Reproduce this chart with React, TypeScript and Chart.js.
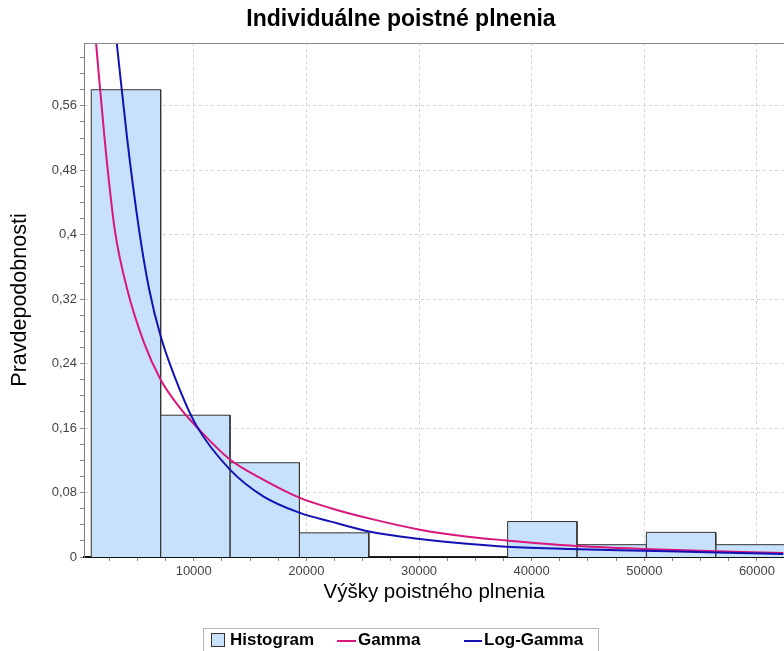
import React, { useEffect, useRef } from 'react';
import { Chart, registerables } from 'chart.js';

Chart.register(...registerables);

// ---------- text ----------
const TITLE = 'Individuálne poistné plnenia';
const X_TITLE = 'Výšky poistného plnenia';
const Y_TITLE = 'Pravdepodobnosti';
const SERIES_LABELS = ['Histogram', 'Gamma', 'Log-Gamma'];

// ---------- data ----------
const binEdges = [905, 7065, 13225, 19385, 25545, 31705, 37865, 44025, 50185, 56345, 62505];
const binHeights = [0.58, 0.176, 0.117, 0.03, 0, 0, 0.044, 0.0153, 0.0306, 0.0153];

const gammaX = [1323, 2095, 2983, 4101, 5584, 7066, 8779, 10555, 13218, 16174, 19432, 22095, 25646, 30084, 34523, 37781, 43400, 49907, 56423, 62335];
const gammaY = [0.639, 0.518, 0.407, 0.332, 0.266, 0.22, 0.185, 0.157, 0.121, 0.096, 0.0733, 0.0609, 0.0476, 0.0339, 0.0248, 0.0206, 0.0142, 0.0099, 0.007, 0.005];

const logGammaX = [3160, 4101, 5140, 6048, 7066, 8779, 10200, 13218, 16174, 19432, 22095, 25646, 30084, 34523, 37781, 43400, 49907, 56423, 62335];
const logGammaY = [0.639, 0.518, 0.407, 0.332, 0.274, 0.207, 0.164, 0.1085, 0.0753, 0.0547, 0.0442, 0.0314, 0.0224, 0.0161, 0.0128, 0.0099, 0.0078, 0.0057, 0.0037];

const xTickValues = [10000, 20000, 30000, 40000, 50000, 60000];
const xTickLabels = ['10000', '20000', '30000', '40000', '50000', '60000'];
const X_MINOR_STEP = 2500;
const yTickValues = [0, 0.08, 0.16, 0.24, 0.32, 0.4, 0.48, 0.56];
const yTickLabels = ['0', '0,08', '0,16', '0,24', '0,32', '0,4', '0,48', '0,56'];
const Y_MINOR_STEP = 0.02;

const X_MIN = 260;
const X_MAX = 62400;
const Y_MIN = 0;
const Y_MAX = 0.638;

// ---------- styles ----------
const FONT = '"Liberation Sans", Arial, sans-serif';
const HIST_FILL = 'rgb(200,225,250)';
const HIST_BORDER = '#333333';
const GAMMA_COLOR = '#d8167c';
const LOGGAMMA_COLOR = '#1212b4';
const GRID_COLOR = '#d4d4d4';

function findLabel(values: number[], labels: string[], v: number, tol: number): string {
  for (let i = 0; i < values.length; i++) {
    if (Math.abs(values[i] - v) < tol) return labels[i];
  }
  return '';
}
function isMajor(values: number[], v: number, tol: number): boolean {
  return values.some((t) => Math.abs(t - v) < tol);
}
function minorTicks(min: number, max: number, step: number) {
  const out: { value: number }[] = [];
  const n0 = Math.ceil(min / step - 1e-9);
  const n1 = Math.floor(max / step + 1e-9);
  for (let n = n0; n <= n1; n++) out.push({ value: Math.round(n * step * 1e6) / 1e6 });
  return out;
}

const frameTitleLegend = {
  id: 'frameTitleLegend',
  afterDraw(chart: any) {
    const { ctx, chartArea } = chart;
    ctx.save();
    // title
    ctx.font = `bold 23px ${FONT}`;
    ctx.fillStyle = '#000';
    ctx.textAlign = 'center';
    ctx.textBaseline = 'middle';
    ctx.fillText(TITLE, 401, 19.5);
    ctx.textAlign = 'left';

    // top frame line of the plot
    ctx.strokeStyle = '#8a8a8a';
    ctx.lineWidth = 1;
    ctx.beginPath();
    ctx.moveTo(chartArea.left, Math.round(chartArea.top) + 0.5);
    ctx.lineTo(chartArea.right, Math.round(chartArea.top) + 0.5);
    ctx.stroke();

    // legend box
    const boxL = 203.5, boxT = 628.5, boxR = 598.5, boxB = 660;
    ctx.strokeStyle = '#b8b8b8';
    ctx.strokeRect(boxL, boxT, boxR - boxL, boxB - boxT);

    const ds = chart.data.datasets;
    const cy = 640;
    ctx.font = `bold 17px ${FONT}`;
    ctx.textBaseline = 'middle';
    // item 0: swatch
    ctx.fillStyle = ds[0].backgroundColor;
    ctx.fillRect(211, 633, 14, 14);
    ctx.strokeStyle = ds[0].borderColor;
    ctx.strokeRect(211.5, 633.5, 13, 13);
    ctx.fillStyle = '#000';
    ctx.fillText(ds[0].label, 230, cy);
    // items 1 & 2: lines
    const lineItems = [
      { i: 1, x0: 337, x1: 356, tx: 358 },
      { i: 2, x0: 464, x1: 482, tx: 484 },
    ];
    lineItems.forEach((it) => {
      ctx.strokeStyle = ds[it.i].borderColor;
      ctx.lineWidth = 2;
      ctx.beginPath();
      ctx.moveTo(it.x0, cy + 1);
      ctx.lineTo(it.x1, cy + 1);
      ctx.stroke();
      ctx.fillStyle = '#000';
      ctx.fillText(ds[it.i].label, it.tx, cy);
    });
    ctx.restore();
  },
};

export default function App() {
  const canvasRef = useRef<HTMLCanvasElement | null>(null);

  useEffect(() => {
    document.body.style.margin = '0';
    const canvas = canvasRef.current;
    if (!canvas) return;

    const histPoints: { x: number; y: number }[] = [];
    binHeights.forEach((h, i) => {
      histPoints.push(
        { x: binEdges[i], y: 0 },
        { x: binEdges[i], y: h },
        { x: binEdges[i + 1], y: h },
        { x: binEdges[i + 1], y: 0 }
      );
    });
    const gammaPoints = gammaX.map((x, i) => ({ x, y: gammaY[i] }));
    const logGammaPoints = logGammaX.map((x, i) => ({ x, y: logGammaY[i] }));

    const chart = new Chart(canvas, {
      type: 'line',
      data: {
        datasets: [
          {
            label: SERIES_LABELS[0],
            data: histPoints,
            borderColor: HIST_BORDER,
            backgroundColor: HIST_FILL,
            borderWidth: 1,
            fill: 'origin',
            pointRadius: 0,
            tension: 0,
            order: 3,
          },
          {
            label: SERIES_LABELS[1],
            data: gammaPoints,
            borderColor: GAMMA_COLOR,
            backgroundColor: GAMMA_COLOR,
            borderWidth: 2,
            fill: false,
            pointRadius: 0,
            cubicInterpolationMode: 'monotone',
            order: 2,
          },
          {
            label: SERIES_LABELS[2],
            data: logGammaPoints,
            borderColor: LOGGAMMA_COLOR,
            backgroundColor: LOGGAMMA_COLOR,
            borderWidth: 2,
            fill: false,
            pointRadius: 0,
            cubicInterpolationMode: 'monotone',
            order: 1,
          },
        ],
      } as any,
      options: {
        animation: false,
        responsive: false,
        maintainAspectRatio: false,
        devicePixelRatio: 1,
        layout: { padding: { top: 43, left: 0, right: 0, bottom: 0 } },
        plugins: {
          legend: { display: false },
          tooltip: { enabled: false },
          title: { display: false },
        },
        scales: {
          x: {
            type: 'linear',
            min: X_MIN,
            max: X_MAX,
            afterBuildTicks: (scale: any) => {
              scale.ticks = minorTicks(X_MIN, X_MAX, X_MINOR_STEP);
            },
            afterFit: (scale: any) => {
              scale.height = 94;
            },
            ticks: {
              autoSkip: false,
              maxRotation: 0,
              minRotation: 0,
              padding: 3,
              color: '#444',
              font: { family: FONT, size: 13 },
              callback: (v: any) => findLabel(xTickValues, xTickLabels, Number(v), 1),
            },
            grid: {
              color: (c: any) => (c.tick && isMajor(xTickValues, c.tick.value, 1) ? GRID_COLOR : 'rgba(0,0,0,0)'),
              tickColor: '#888',
              tickLength: 4,
              lineWidth: 1,
            },
            border: { display: true, color: '#111', width: 2, dash: [3, 3] },
            title: {
              display: true,
              text: X_TITLE,
              color: '#000',
              font: { family: FONT, size: 20.5 },
              padding: { top: 0, bottom: 46 },
            },
          },
          y: {
            type: 'linear',
            min: Y_MIN,
            max: Y_MAX,
            afterBuildTicks: (scale: any) => {
              scale.ticks = minorTicks(Y_MIN, Y_MAX, Y_MINOR_STEP);
            },
            afterFit: (scale: any) => {
              scale.width = 84;
            },
            ticks: {
              autoSkip: false,
              padding: 3,
              color: '#444',
              font: { family: FONT, size: 13 },
              callback: (v: any) => findLabel(yTickValues, yTickLabels, Number(v), 1e-6),
            },
            grid: {
              color: (c: any) =>
                c.tick && c.tick.value > 1e-6 && isMajor(yTickValues, c.tick.value, 1e-6) ? GRID_COLOR : 'rgba(0,0,0,0)',
              tickColor: '#888',
              tickLength: 4,
              lineWidth: 1,
            },
            border: { display: true, color: '#808080', width: 1, dash: [3, 3] },
            title: {
              display: true,
              text: Y_TITLE,
              color: '#000',
              font: { family: FONT, size: 21.5 },
              padding: { top: 7, bottom: 0 },
            },
          },
        },
      } as any,
      plugins: [frameTitleLegend],
    });

    return () => {
      chart.destroy();
    };
  }, []);

  return (
    <div style={{ width: 784, height: 651, position: 'relative', background: '#fff' }}>
      <canvas ref={canvasRef} width={784} height={651} />
    </div>
  );
}
